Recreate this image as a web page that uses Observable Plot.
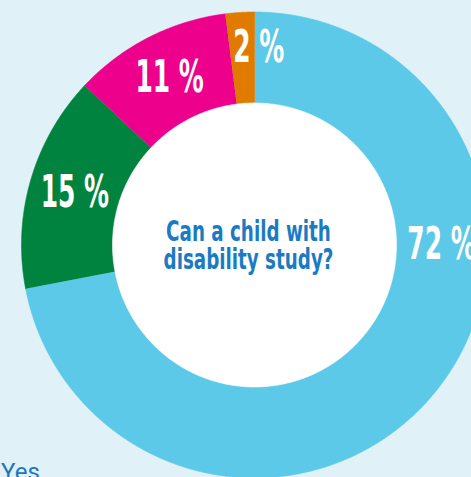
<!DOCTYPE html>
<html><head><meta charset="utf-8">
<script src="https://cdn.jsdelivr.net/npm/d3@7"></script>
<script src="https://cdn.jsdelivr.net/npm/@observablehq/plot@0.6"></script>
<style>
html,body{margin:0;padding:0;background:#E0F2F7;overflow:hidden;}
#chart{width:471px;position:relative;}
#legend{font-family:Roboto,"Liberation Sans",sans-serif;font-size:24px;color:#1C77BD;margin:1px 0 0 1px;line-height:29px;position:relative;}
</style></head><body><div id="chart"></div><div id="legend"></div>
<script>
const categories = ["Yes", "No", "Don't know", "No answer"];
const shares = [72, 15, 11, 2];
const labels = ["72 %", "15 %", "11 %", "2 %"];
const colors = ["#5BC9E7", "#00833F", "#EC008C", "#E07B00"];
const question = "Can a child with\ndisability study?";

const R_OUT = 233, R_IN = 141.5, R_LAB = 187;
const rows = categories.map((c, i) => ({key: c, share: shares[i], label: labels[i]}));
const arcs = d3.pie().sort(null).value(d => d.share)(rows);

const pts = [];
for (const a of arcs) {
  const n = Math.max(4, Math.ceil((a.endAngle - a.startAngle) / 0.004));
  for (let j = 0; j <= n; j++) {
    const t = a.startAngle + (a.endAngle - a.startAngle) * j / n;
    pts.push({key: a.data.key, x: R_OUT * Math.sin(t), y: R_OUT * Math.cos(t)});
  }
  for (let j = n; j >= 0; j--) {
    const t = a.startAngle + (a.endAngle - a.startAngle) * j / n;
    pts.push({key: a.data.key, x: R_IN * Math.sin(t), y: R_IN * Math.cos(t)});
  }
}
const hole = d3.range(0, 721).map(j => {
  const t = j / 720 * 2 * Math.PI;
  return {x: (R_IN + 0.5) * Math.sin(t), y: (R_IN + 0.5) * Math.cos(t)};
});

const labelPos = arcs.map(a => {
  const small = a.data.share < 5;
  const ang = a.data.share > 50 ? Math.PI / 2 : (a.startAngle + a.endAngle) / 2;
  const r = small ? 197 : R_LAB;
  return {label: a.data.label, small, x: r * Math.sin(ang), y: r * Math.cos(ang)};
});

const labelFont = "'DejaVu Sans Condensed', 'DejaVu Sans', sans-serif";
const plot = Plot.plot({
  width: 471, height: 457, margin: 0,
  x: {domain: [-254, 217], axis: null},
  y: {domain: [-212.5, 244.5], axis: null},
  color: {domain: categories, range: colors},
  style: {background: "transparent", overflow: "visible"},
  marks: [
    Plot.line(pts, {x: "x", y: "y", z: "key", fill: "key", stroke: "key", strokeWidth: 0.6, curve: "linear"}),
    Plot.line(hole, {x: "x", y: "y", fill: "white", stroke: "white", strokeWidth: 0.6}),
    Plot.text(labelPos.filter(d => !d.small), {x: "x", y: "y", text: "label", fill: "white", fontSize: 44, fontWeight: "bold", fontFamily: labelFont}),
    Plot.text(labelPos.filter(d => d.small), {x: "x", y: "y", text: "label", fill: "white", fontSize: 44, fontWeight: "bold", fontFamily: labelFont, textAnchor: "start", dx: -9}),
    Plot.text([question], {x: () => 0, y: () => 0, text: d => d, dx: -6, dy: 1, fill: "#1A7BC3", fontSize: 27.5, lineHeight: 1.03, fontWeight: "bold", fontFamily: labelFont, ariaLabel: () => "title"})
  ]
});
plot.querySelectorAll("text").forEach(el => {
  const k = el.getAttribute("aria-label") === "title" ? 0.74 : 0.63;
  el.setAttribute("transform", (el.getAttribute("transform") || "") + ` scale(${k},1)`);
});
document.getElementById("chart").appendChild(plot);
const lg = document.getElementById("legend");
categories.forEach(c => { const d = document.createElement("div"); d.textContent = c; lg.appendChild(d); });
</script></body></html>
